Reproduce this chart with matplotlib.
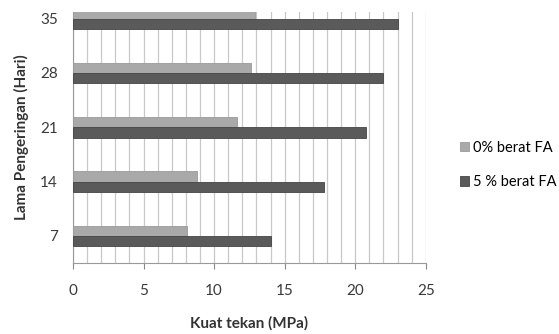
import matplotlib.pyplot as plt
import numpy as np

days = ["7", "14", "21", "28", "35"]
fa_0 = [8.07, 8.78, 11.62, 12.64, 12.88]
fa_5 = [14.0, 17.8, 20.8, 22.0, 23.05]
labels = ["0% berat FA", "5 % berat FA"]

plt.rcParams['font.family'] = ['Lato', 'DejaVu Sans']

fig = plt.figure(figsize=(5.59, 3.34), dpi=100)
ax = fig.add_axes([0.1306, 0.2126, 0.631, 0.7514])

y = np.arange(len(days))
h = 0.19
ax.barh(y + h / 2, fa_0, height=h, color="#a9a9a9", edgecolor="#9a9a9a", linewidth=0.6, label=labels[0], zorder=3)
ax.barh(y - h / 2, fa_5, height=h, color="#5a5a5a", edgecolor="#444444", linewidth=0.6, label=labels[1], zorder=3)

ax.set_xlim(0, 25)
ax.set_ylim(-0.5, 4.12)
ax.set_xticks(np.arange(0, 26, 5))
ax.set_xticks(np.arange(0, 26, 1), minor=True)
ax.set_yticks(y)
ax.set_yticklabels(days)
ax.grid(axis="x", which="both", color="#c8c8c8", linewidth=0.9, zorder=0)
ax.tick_params(axis="x", which="major", length=4, color="#888888", labelsize=11, labelcolor="#3a3a3a", pad=11)
ax.tick_params(axis="x", which="minor", length=0)
ax.tick_params(axis="y", length=0, labelsize=11, labelcolor="#3a3a3a", pad=11)

for s in ["top", "right"]:
    ax.spines[s].set_visible(False)
ax.spines["left"].set_color("#999999")
ax.spines["bottom"].set_color("#999999")

ax.set_xlabel("Kuat tekan (MPa)", fontsize=11, fontweight="bold", color="#333333", labelpad=13)
ax.set_ylabel("Lama Pengeringan (Hari)", fontsize=11, fontweight="bold", color="#333333", labelpad=8)

fig.legend(loc="center left", bbox_to_anchor=(0.823, 0.506), frameon=False, fontsize=10.5,
           borderpad=0, borderaxespad=0,
           handlelength=0.6, handleheight=0.6, handletextpad=0.3, labelspacing=1.4)

fig.savefig("out.png", dpi=100)
